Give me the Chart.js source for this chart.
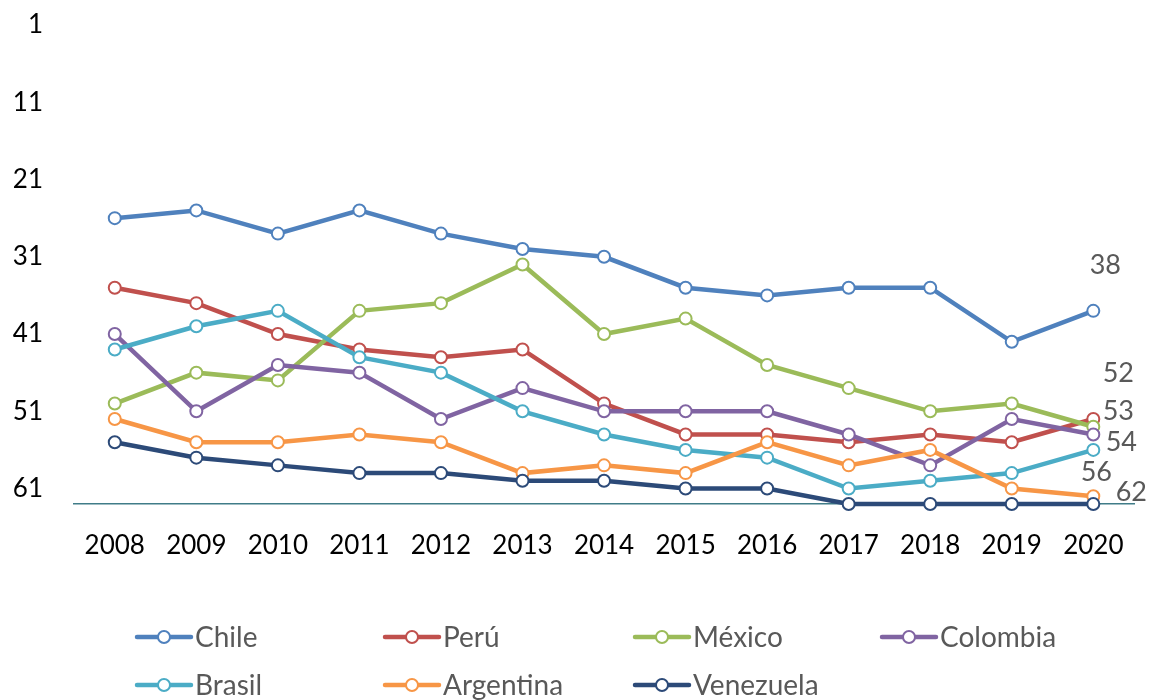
<!DOCTYPE html>
<html>
<head>
<meta charset="utf-8">
<script src="https://cdn.jsdelivr.net/npm/chart.js@4/dist/chart.umd.min.js"></script>
<style>
  html, body { margin: 0; padding: 0; background: #fff; }
  #wrap { width: 1150px; height: 700px; }
</style>
</head>
<body>
<div id="wrap"><canvas id="myChart" width="1150" height="700"></canvas></div>
<script>
var years = ['2008', '2009', '2010', '2011', '2012', '2013', '2014', '2015', '2016', '2017', '2018', '2019', '2020'];
var yTicks = [1, 11, 21, 31, 41, 51, 61];

var chile     = [26, 25, 28, 25, 28, 30, 31, 35, 36, 35, 35, 42, 38];
var peru      = [35, 37, 41, 43, 44, 43, 50, 54, 54, 55, 54, 55, 52];
var mexico    = [50, 46, 47, 38, 37, 32, 41, 39, 45, 48, 51, 50, 53];
var colombia  = [41, 51, 45, 46, 52, 48, 51, 51, 51, 54, 58, 52, 54];
var brasil    = [43, 40, 38, 44, 46, 51, 54, 56, 57, 61, 60, 59, 56];
var argentina = [52, 55, 55, 54, 55, 59, 58, 59, 55, 58, 56, 61, 62];
var venezuela = [55, 57, 58, 59, 59, 60, 60, 61, 61, 63, 63, 63, 63];

var names  = ['Chile', 'Perú', 'México', 'Colombia', 'Brasil', 'Argentina', 'Venezuela'];
var series = [chile, peru, mexico, colombia, brasil, argentina, venezuela];
var colors = ['#4F81BD', '#C0504D', '#9BBB59', '#8064A2', '#4BACC6', '#F79646', '#2C4A78'];

// where the 2020 value labels sit, relative to the point (null = no label)
var endOffsets = [[12, -46], [25, -46], [25, -15], [28, 8], [3, 22], [38, -4], null];

var FONT = 'Lato, "Open Sans", sans-serif';

var datasets = [];
for (var i = 0; i < series.length; i++) {
  datasets.push({
    label: names[i],
    data: series[i],
    borderColor: colors[i],
    backgroundColor: colors[i],
    borderWidth: 4.5,
    pointRadius: 6,
    pointHoverRadius: 6,
    pointBorderWidth: 2,
    pointBackgroundColor: '#ffffff',
    pointBorderColor: colors[i],
    tension: 0,
    clip: false,
    order: series.length - i
  });
}

var endLabels = {
  id: 'endLabels',
  afterDatasetsDraw: function(chart) {
    var ctx = chart.ctx;
    ctx.save();
    ctx.font = '27px ' + FONT;
    ctx.fillStyle = '#595959';
    ctx.textAlign = 'center';
    ctx.textBaseline = 'middle';
    chart.data.datasets.forEach(function(ds, i) {
      var off = endOffsets[i];
      if (!off) return;
      var last = ds.data.length - 1;
      var pt = chart.getDatasetMeta(i).data[last];
      ctx.fillText(String(ds.data[last]), pt.x + off[0], pt.y + off[1]);
    });
    ctx.restore();
  }
};

var gridLegend = {
  id: 'gridLegend',
  afterDraw: function(chart) {
    var ctx = chart.ctx;
    var colX = [135, 383, 633, 880];
    var rowY = [637, 685];
    ctx.save();
    ctx.font = '28px ' + FONT;
    ctx.textBaseline = 'middle';
    ctx.textAlign = 'left';
    chart.data.datasets.forEach(function(ds, i) {
      var x = colX[i % 4];
      var y = rowY[Math.floor(i / 4)];
      ctx.strokeStyle = ds.borderColor;
      ctx.lineWidth = 4.5;
      ctx.lineCap = 'round';
      ctx.beginPath();
      ctx.moveTo(x + 2, y);
      ctx.lineTo(x + 56, y);
      ctx.stroke();
      ctx.beginPath();
      ctx.arc(x + 29, y, 6, 0, Math.PI * 2);
      ctx.fillStyle = '#ffffff';
      ctx.fill();
      ctx.lineWidth = 2;
      ctx.stroke();
      ctx.fillStyle = '#595959';
      ctx.fillText(ds.label, x + 60, y + 1);
    });
    ctx.restore();
  }
};

var ctx = document.getElementById('myChart');
var myLineChart = new Chart(ctx, {
  type: 'line',
  data: {
    labels: years,
    datasets: datasets
  },
  options: {
    responsive: false,
    animation: false,
    events: [],
    layout: { padding: { top: 25, right: 14, left: 0, bottom: 0 } },
    plugins: {
      legend: { display: false },
      tooltip: { enabled: false },
      title: { display: false }
    },
    scales: {
      x: {
        offset: true,
        grid: { display: false, drawTicks: false },
        border: { display: true, color: '#407C88', width: 1.5 },
        ticks: {
          color: '#000000',
          font: { family: FONT, size: 26 },
          padding: 26,
          maxRotation: 0,
          autoSkip: false
        },
        afterFit: function(scale) { scale.height = 196; }
      },
      y: {
        reverse: true,
        min: 1,
        max: 63,
        grid: { display: false, drawTicks: false },
        border: { display: false },
        ticks: {
          color: '#000000',
          font: { family: FONT, size: 26 },
          padding: 31
        },
        afterBuildTicks: function(scale) {
          scale.ticks = yTicks.map(function(v) { return { value: v }; });
        },
        afterFit: function(scale) {
          scale.width = 74;
          scale.paddingTop = 0;
          scale.paddingBottom = 0;
        }
      }
    }
  },
  plugins: [endLabels, gridLegend]
});
</script>
</body>
</html>
